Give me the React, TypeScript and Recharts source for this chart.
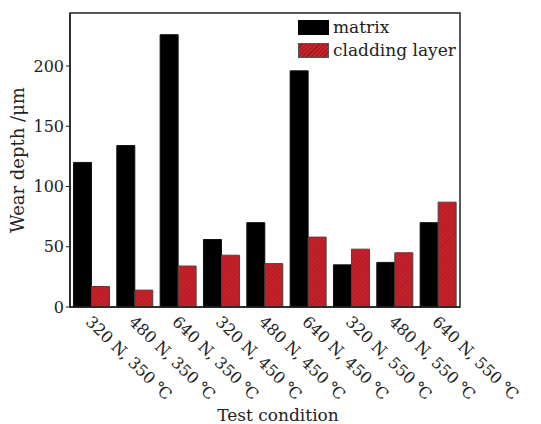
import { BarChart, Bar, XAxis, YAxis, Legend, ReferenceArea } from "recharts";

const conditions = [
  "320 N, 350 ℃",
  "480 N, 350 ℃",
  "640 N, 350 ℃",
  "320 N, 450 ℃",
  "480 N, 450 ℃",
  "640 N, 450 ℃",
  "320 N, 550 ℃",
  "480 N, 550 ℃",
  "640 N, 550 ℃",
];
const matrix = [120, 134, 226, 56, 70, 196, 35, 37, 70];
const cladding = [17, 14, 34, 43, 36, 58, 48, 45, 87];
const yTicks = [0, 50, 100, 150, 200];

const data = conditions.map((name, i) => ({
  name,
  matrix: matrix[i],
  cladding: cladding[i],
}));

const FONT = "'DejaVu Serif', serif";
const INK = "#222";

const XTick = ({ x, y, payload }: any) => (
  <text
    x={x - 7}
    y={y + 8}
    transform={`rotate(44, ${x - 7}, ${y + 8})`}
    textAnchor="start"
    fontFamily={FONT}
    fontSize={16}
    fill={INK}
  >
    {payload.value}
  </text>
);

const hatch =
  "repeating-linear-gradient(135deg, #c9202a 0px, #c9202a 2px, #8e1a1e 2px, #8e1a1e 3px)";

const LegendBox = () => (
  <div style={{ fontFamily: FONT, fontSize: 17, color: INK, lineHeight: "19px" }}>
    <div style={{ display: "flex", alignItems: "center", marginBottom: 4 }}>
      <div style={{ width: 31, height: 15, background: "#000", marginRight: 4 }} />
      matrix
    </div>
    <div style={{ display: "flex", alignItems: "center" }}>
      <div
        style={{
          width: 31,
          height: 15,
          background: hatch,
          border: "1px solid #555",
          boxSizing: "border-box",
          marginRight: 4,
        }}
      />
      cladding layer
    </div>
  </div>
);

export default function App() {
  return (
    <div style={{ position: "absolute", left: 0, top: 0, background: "#fff" }}>
      <BarChart
        width={541}
        height={424}
        data={data}
        margin={{ top: 13, right: 81, bottom: 0, left: 10 }}
        barCategoryGap="8%"
        barGap={0}
      >
        <defs>
          <pattern
            id="hatch"
            width="3"
            height="3"
            patternUnits="userSpaceOnUse"
            patternTransform="rotate(45)"
          >
            <rect width="3" height="3" fill="#c9202a" />
            <line x1="0" y1="0" x2="0" y2="3" stroke="#8e1a1e" strokeWidth="1" />
          </pattern>
        </defs>
        <XAxis
          dataKey="name"
          height={117}
          interval={0}
          tick={<XTick />}
          tickLine={false}
          axisLine={{ stroke: INK, strokeWidth: 1.5 }}
          label={{
            value: "Test condition",
            position: "insideBottom",
            offset: 3,
            dx: 13,
            style: { fontFamily: FONT, fontSize: 17, fill: INK },
          }}
        />
        <YAxis
          width={60}
          domain={[0, 244]}
          ticks={yTicks}
          tickSize={4}
          tickLine={{ stroke: INK }}
          axisLine={{ stroke: INK, strokeWidth: 1.5 }}
          tick={{ fontFamily: FONT, fontSize: 16, fill: INK }}
          label={{
            value: "Wear depth /μm",
            angle: -90,
            position: "insideLeft",
            offset: 0,
            dx: 8,
            dy: 0,
            style: { fontFamily: FONT, fontSize: 18, fill: INK, textAnchor: "middle" },
          }}
        />
        <ReferenceArea
          y1={0}
          y2={244}
          fill="none"
          stroke={INK}
          strokeWidth={1.5}
          ifOverflow="visible"
        />
        <Legend
          verticalAlign="middle"
          align="center"
          layout="horizontal"
          content={<LegendBox />}
          wrapperStyle={{ top: 18, left: 298, width: 170 }}
        />
        <Bar
          dataKey="matrix"
          fill="#000"
          stroke="#111"
          strokeWidth={1}
          isAnimationActive={false}
        />
        <Bar
          dataKey="cladding"
          fill="url(#hatch)"
          stroke="#444"
          strokeWidth={1}
          isAnimationActive={false}
        />
      </BarChart>
    </div>
  );
}
